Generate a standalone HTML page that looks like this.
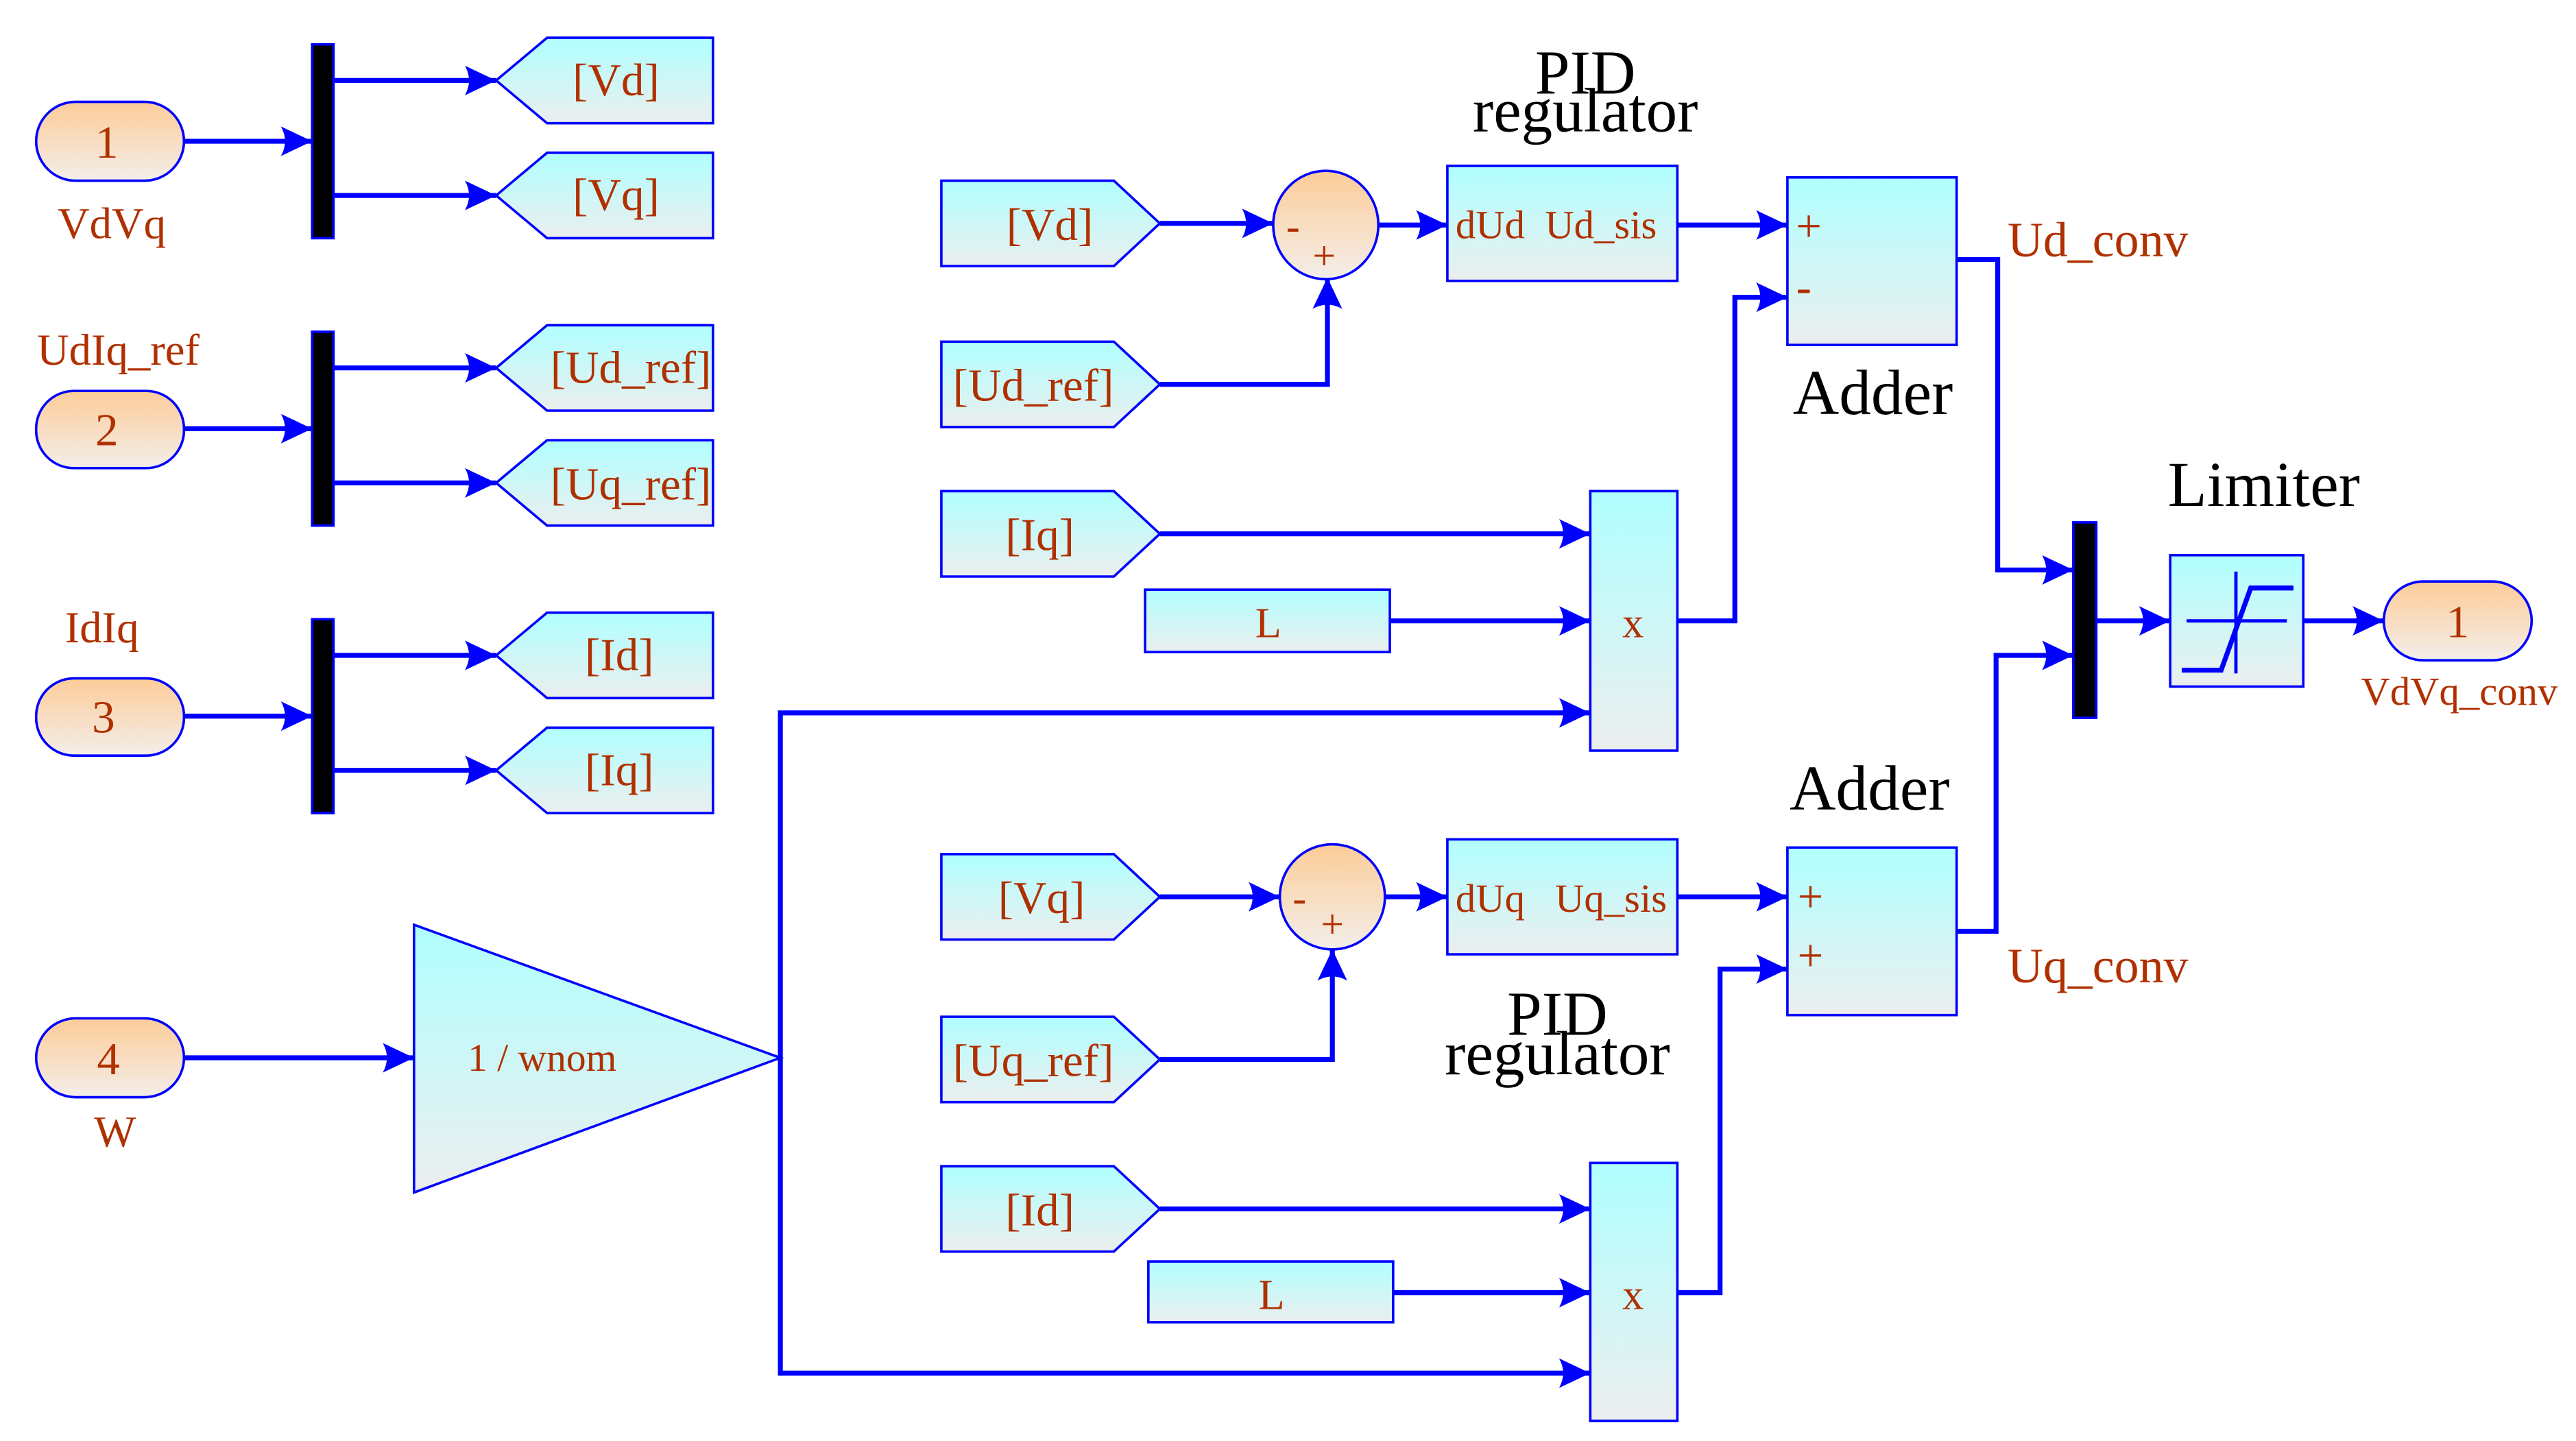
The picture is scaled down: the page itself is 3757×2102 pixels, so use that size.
<!DOCTYPE html>
<html><head><meta charset="utf-8"><style>
html,body{margin:0;padding:0;background:#fff;}
svg{display:block;}
text{font-family:"Liberation Serif",serif;white-space:pre;}
</style></head><body>
<svg width="3757" height="2102" viewBox="0 0 1568 877.3" preserveAspectRatio="none" xmlns="http://www.w3.org/2000/svg">
<defs>
<linearGradient id="cy" x1="0" y1="0" x2="0" y2="1"><stop offset="0" stop-color="#B0FFFF"/><stop offset="1" stop-color="#ECEEEE"/></linearGradient>
<linearGradient id="og" x1="0" y1="0" x2="0" y2="1"><stop offset="0" stop-color="#FDCC98"/><stop offset="1" stop-color="#F3EEEA"/></linearGradient>
<marker id="a" markerUnits="userSpaceOnUse" markerWidth="20" markerHeight="20" viewBox="0 0 20 20" refX="19" refY="10" orient="auto"><path d="M0,1 L19,10 L0,19 Q5,10 0,1Z" fill="#0000FF"/></marker>
</defs>
<g stroke="#0000FF" stroke-width="3" fill="none" marker-end="url(#a)">
<path d="M112,86H190"/><path d="M203,49H302"/><path d="M203,119H302"/>
<path d="M112,261H190"/><path d="M203,224H302"/><path d="M203,294H302"/>
<path d="M112,436H190"/><path d="M203,399H302"/><path d="M203,469H302"/>
<path d="M112,644H252"/>
<path d="M475,644V434H968"/><path d="M475,644V836H968"/>
<path d="M706,136H775"/><path d="M706,234H808V169"/><path d="M839,137H881"/>
<path d="M1021,137H1088"/><path d="M706,325H968"/><path d="M846,378H968"/>
<path d="M1021,378H1056V181H1088"/>
<path d="M1191,158H1216V347H1262"/><path d="M1276,378H1321"/><path d="M1402,378H1451"/>
<path d="M706,546H779"/><path d="M706,645H811V578"/><path d="M843,546H881"/>
<path d="M1021,546H1088"/><path d="M706,736H968"/><path d="M848,787H968"/>
<path d="M1021,787H1047V590H1088"/>
<path d="M1191,567H1215V399H1262"/>
</g>
<g stroke="#0000FF" stroke-width="1.5">
<rect x="190" y="27" width="13" height="118" fill="#000"/>
<rect x="190" y="202" width="13" height="118" fill="#000"/>
<rect x="190" y="377" width="13" height="118" fill="#000"/>
<rect x="1262" y="318" width="14" height="119" fill="#000"/>
<rect x="22" y="62" width="90" height="48" rx="24" fill="url(#og)"/>
<rect x="22" y="238" width="90" height="47" rx="23" fill="url(#og)"/>
<rect x="22" y="413" width="90" height="47" rx="23" fill="url(#og)"/>
<rect x="22" y="620" width="90" height="48" rx="24" fill="url(#og)"/>
<rect x="1451" y="354" width="90" height="48" rx="24" fill="url(#og)"/>
<g fill="url(#cy)">
<polygon points="302,49 333,23 434,23 434,75 333,75"/>
<polygon points="302,119 333,93 434,93 434,145 333,145"/>
<polygon points="302,224 333,198 434,198 434,250 333,250"/>
<polygon points="302,294 333,268 434,268 434,320 333,320"/>
<polygon points="302,399 333,373 434,373 434,425 333,425"/>
<polygon points="302,469 333,443 434,443 434,495 333,495"/>
<polygon points="573,110 678,110 706,136 678,162 573,162"/>
<polygon points="573,208 678,208 706,234 678,260 573,260"/>
<polygon points="573,299 678,299 706,325 678,351 573,351"/>
<polygon points="573,520 678,520 706,546 678,572 573,572"/>
<polygon points="573,619 678,619 706,645 678,671 573,671"/>
<polygon points="573,710 678,710 706,736 678,762 573,762"/>
<polygon points="252,563 252,726 475,644"/>
<rect x="881" y="101" width="140" height="70"/>
<rect x="881" y="511" width="140" height="70"/>
<rect x="1088" y="108" width="103" height="102"/>
<rect x="1088" y="516" width="103" height="102"/>
<rect x="968" y="299" width="53" height="158"/>
<rect x="968" y="708" width="53" height="157"/>
<rect x="697" y="359" width="149" height="38"/>
<rect x="699" y="768" width="149" height="37"/>
<rect x="1321" y="338" width="81" height="80"/>
</g>
<ellipse cx="807" cy="137" rx="32" ry="33" fill="url(#og)"/>
<ellipse cx="811" cy="546" rx="32" ry="32" fill="url(#og)"/>
</g>
<g stroke="#0000FF" fill="none">
<path d="M1328,408H1352L1370,358H1396" stroke-width="3"/>
<path d="M1331,378H1392M1361,348V410" stroke-width="2"/>
</g>
<g fill="#B03000" font-size="28" text-anchor="middle">
<text x="65" y="96">1</text><text x="65" y="271">2</text><text x="63" y="446">3</text><text x="66" y="654">4</text>
<text x="1496" y="388">1</text>
<text x="68" y="145" font-size="27">VdVq</text>
<text x="72" y="222" font-size="27">UdIq_ref</text>
<text x="62" y="391" font-size="27">IdIq</text>
<text x="70" y="698" font-size="27">W</text>
<text x="375" y="58">[Vd]</text><text x="375" y="128">[Vq]</text>
<text x="384" y="233">[Ud_ref]</text><text x="384" y="304">[Uq_ref]</text>
<text x="377" y="408">[Id]</text><text x="377" y="478">[Iq]</text>
<text x="639" y="146">[Vd]</text><text x="629" y="244">[Ud_ref]</text><text x="633" y="335">[Iq]</text>
<text x="634" y="556">[Vq]</text><text x="629" y="655">[Uq_ref]</text><text x="633" y="746">[Id]</text>
<text x="772" y="388" font-size="26">L</text><text x="774" y="797" font-size="26">L</text>
<text x="994" y="388" font-size="26">x</text><text x="994" y="797" font-size="26">x</text>
<text x="330" y="652" font-size="24">1 / wnom</text>
<text x="886" y="145" font-size="24.5" text-anchor="start">dUd  Ud_sis</text>
<text x="886" y="555" font-size="24.5" text-anchor="start">dUq   Uq_sis</text>
<text x="1222" y="156" font-size="30" text-anchor="start">Ud_conv</text>
<text x="1222" y="598" font-size="30" text-anchor="start">Uq_conv</text>
<text x="1497" y="429" font-size="24.5">VdVq_conv</text>
<text x="1101" y="147" font-size="28">+</text><text x="1098" y="184" font-size="28">-</text>
<text x="1102" y="555" font-size="28">+</text><text x="1102" y="591" font-size="28">+</text>
<text x="787" y="146" font-size="25">-</text><text x="806" y="164" font-size="25">+</text>
<text x="791" y="555" font-size="25">-</text><text x="811" y="571" font-size="25">+</text>
</g>
<g fill="#000" font-size="38" text-anchor="middle">
<text x="965" y="57">PID</text><text x="965" y="80">regulator</text>
<text x="948" y="630">PID</text><text x="948" y="654">regulator</text>
<text x="1140" y="252" font-size="39">Adder</text>
<text x="1138" y="493" font-size="39">Adder</text>
<text x="1378" y="308" font-size="39">Limiter</text>
</g>
</svg>
</body></html>
